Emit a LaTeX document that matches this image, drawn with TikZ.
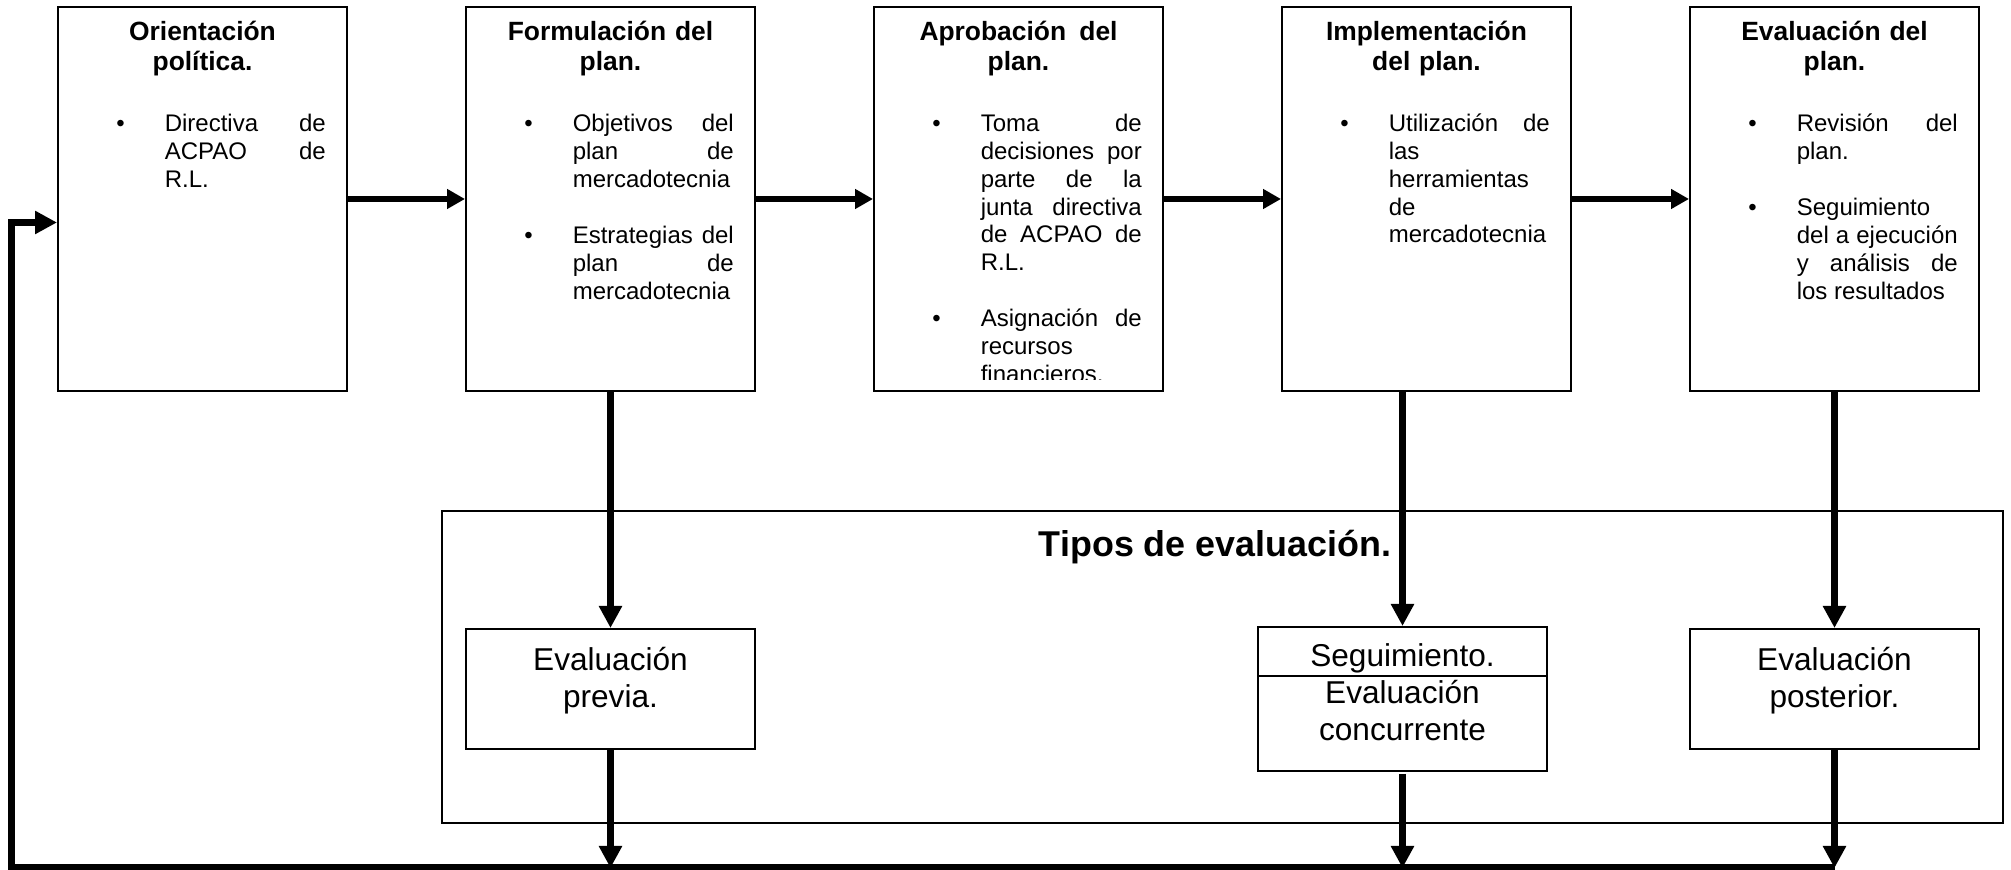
\documentclass[tikz,border=0pt]{standalone}
\usepackage{fontspec}
\setmainfont{Liberation Sans}
\usetikzlibrary{arrows.meta,calc}

% renglon justificado y punto de lista
\newcommand\jl[1]{\makebox[\linewidth][s]{#1}}
\newcommand\punto[1]{\makebox[36.4pt][l]{\textbullet}\parbox[t]{120.75pt}{#1}}

\tikzset{
  caja/.style={draw,line width=1.5pt,minimum width=216.75pt,minimum height=288pt,inner sep=0pt},
  titulo/.style={text width=202.5pt,align=center,inner sep=0pt,anchor=base,
    font=\fontsize{19.8}{22.5}\selectfont\bfseries},
  lista/.style={inner sep=0pt,anchor=base west,font=\fontsize{18}{20.8}\selectfont},
  tipo/.style={draw,line width=1.5pt,minimum width=216.75pt,minimum height=90pt,inner sep=0pt},
  tipotxt/.style={text width=202.5pt,align=center,inner sep=0pt,anchor=base,
    font=\fontsize{23.7}{27.4}\selectfont},
  flecha/.style={line width=4.5pt,-{Triangle[length=13.5pt,width=14.25pt]}},
  baja/.style={line width=5.25pt,-{Triangle[length=16.5pt,width=16.5pt]}},
}

\begin{document}
\begin{tikzpicture}[x=0.75pt,y=0.75pt]
  \useasboundingbox (0,0) rectangle (2011,870);

  % marco de tipos de evaluacion
  \node[draw,line width=1.5pt,minimum width=1170.75pt,minimum height=234pt] (marco) at (1222.5,203) {};
  \node[anchor=base,inner sep=0pt,font=\fontsize{26.9}{31}\selectfont\bfseries] (tipos) at (1215,313) {Tipos de evaluación.};

  % etapas
  \node[caja] (o1) at (202.5,671) {};
  \node[caja] (o2) at (610.5,671) {};
  \node[caja] (o3) at (1018.5,671) {};
  \node[caja] (o4) at (1426.5,671) {};
  \node[caja] (o5) at (1834.5,671) {};

  \node[titulo] (t1) at ($(o1.north)+(0,-35)$) {Orientación\\política.};
  \node[titulo] (t2) at ($(o2.north)+(0,-35)$) {Formulación del\\plan.};
  \node[titulo] (t3) at ($(o3.north)+(0,-35)$) {Aprobación\hspace{0.5em}del\\plan.};
  \node[titulo] (t4) at ($(o4.north)+(0,-35)$) {Implementación\\del plan.};
  \node[titulo] (t5) at ($(o5.north)+(0,-35)$) {Evaluación del\\plan.};

  \node[lista] (l1a) at ($(o1.north west)+(59,-126)$) {\punto{\jl{Directiva de}\\\jl{ACPAO de}\\R.L.}};
  \node[lista] (l2a) at ($(o2.north west)+(59,-126)$) {\punto{\jl{Objetivos del}\\\jl{plan de}\\mercadotecnia}};
  \node[lista] (l2b) at ($(o2.north west)+(59,-238)$) {\punto{\jl{Estrategias del}\\\jl{plan de}\\mercadotecnia}};
  \node[lista] (l3a) at ($(o3.north west)+(59,-126)$) {\punto{\jl{Toma de}\\\jl{decisiones por}\\\jl{parte de la}\\\jl{junta directiva}\\\jl{de ACPAO de}\\R.L.}};
  \begin{scope}
    \clip ($(o3.south west)+(0,12.5)$) rectangle (o3.north east);
    \node[lista] (l3b) at ($(o3.north west)+(59,-321)$) {\punto{\jl{Asignación de}\\recursos\\financieros.}};
  \end{scope}
  \node[lista] (l4a) at ($(o4.north west)+(59,-126)$) {\punto{\jl{Utilización de}\\las\\herramientas\\de\\mercadotecnia}};
  \node[lista] (l5a) at ($(o5.north west)+(59,-126)$) {\punto{\jl{Revisión del}\\plan.}};
  \node[lista] (l5b) at ($(o5.north west)+(59,-210)$) {\punto{Seguimiento\\\jl{del a ejecución}\\\jl{y análisis de}\\los resultados}};

  % tipos
  \node[tipo] (previa) at (610.5,181) {};
  \node[tipo,minimum height=108pt] (seg) at (1402.5,171) {};
  \node[tipo] (post) at (1834.5,181) {};
  \draw[line width=1.5pt] ($(seg.north west)+(0,-50)$) -- ($(seg.north east)+(0,-50)$);

  \node[tipotxt] (previat) at ($(previa.north)+(0,-43)$) {Evaluación\\previa.};
  \node[tipotxt] (segt) at ($(seg.north)+(0,-41)$) {Seguimiento.\\Evaluación\\concurrente};
  \node[tipotxt] (postt) at ($(post.north)+(0,-42.5)$) {Evaluación\\posterior.};

  % flechas
  \coordinate (base) at (11.5,2);
  \coordinate (entrada) at ($(o1.west)+(0,-23.5)$);

  \draw[flecha] (o1) -- (o2);
  \draw[flecha] (o2) -- (o3);
  \draw[flecha] (o3) -- (o4);
  \draw[flecha] (o4) -- (o5);

  \draw[baja] (o2) -- (previa);
  \draw[baja] (seg.north |- o4.south) -- (seg);
  \draw[baja] (o5) -- (post);
  \draw[baja] (previa) -- (previa |- base);
  \draw[baja] ([yshift=-1.5pt]seg.south) -- (seg |- base);
  \draw[baja] (post) -- (post |- base);
  \draw[baja] (post |- base) -- (base) |- (entrada);
\end{tikzpicture}
\end{document}
